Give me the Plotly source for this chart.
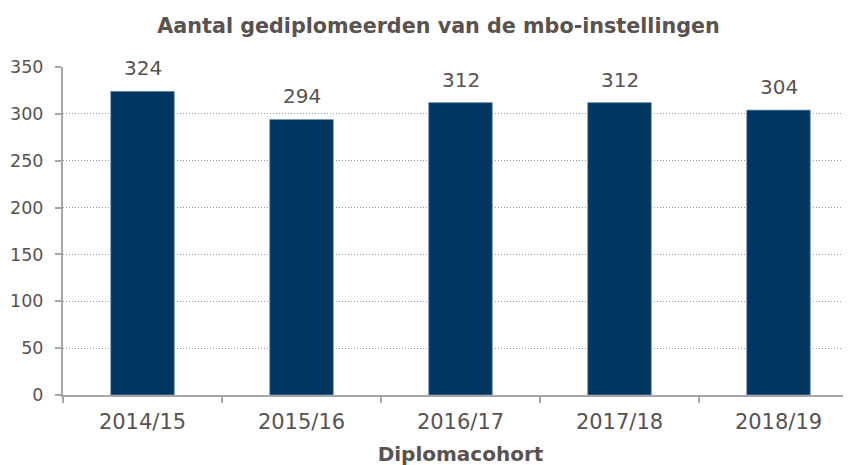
import plotly.graph_objects as go

categories = ["2014/15", "2015/16", "2016/17", "2017/18", "2018/19"]
values = [324, 294, 312, 312, 304]
y_ticks = [0, 50, 100, 150, 200, 250, 300, 350]

TEXT = "rgb(89,82,79)"
BAR = "rgb(0,54,96)"
FONT = "DejaVu Sans"
AXIS = "rgb(166,166,166)"

fig = go.Figure()
fig.add_trace(go.Bar(
    x=categories, y=values, width=0.4,
    marker=dict(color=BAR, line=dict(color="rgb(120,150,185)", width=0.8)),
    cliponaxis=False, hoverinfo="skip",
))

for c, v in zip(categories, values):
    fig.add_annotation(x=c, y=v, text=str(v), showarrow=False,
                       xanchor="center", yanchor="bottom", yshift=9,
                       font=dict(family=FONT, size=20, color=TEXT))

# the page body adds an 8px offset, so margins compensate for it
fig.update_layout(
    width=851, height=465,
    margin=dict(l=55, r=1, t=59, b=78),
    paper_bgcolor="white", plot_bgcolor="white",
    showlegend=False,
    font=dict(family=FONT, color=TEXT),
    title=dict(text="<b>Aantal gediplomeerden van de mbo-instellingen</b>",
               x=0.506, xref="container", xanchor="center",
               y=0.962, yref="container", yanchor="middle",
               font=dict(family=FONT, size=20.7, color=TEXT)),
    xaxis=dict(
        type="category", range=[-0.5, 4.5], automargin=False,
        showline=True, linecolor=AXIS, linewidth=2,
        ticks="outside", tickson="boundaries", ticklen=6,
        tickcolor=AXIS, tickwidth=1.5,
        showgrid=False, ticklabelstandoff=7,
        tickfont=dict(family=FONT, size=21, color=TEXT),
        title=dict(text="<b>Diplomacohort</b>", standoff=14,
                   font=dict(family=FONT, size=20, color=TEXT)),
    ),
    yaxis=dict(
        range=[0, 350], tickvals=y_ticks, automargin=False,
        showline=True, linecolor=AXIS, linewidth=2,
        ticks="outside", ticklen=6, tickcolor=AXIS, tickwidth=1.5,
        showgrid=True, gridcolor="rgb(155,155,155)", griddash="1px,2px", gridwidth=1,
        zeroline=False, ticklabelstandoff=8,
        tickfont=dict(family=FONT, size=17.5, color=TEXT),
    ),
)

fig.write_html("out.html")
